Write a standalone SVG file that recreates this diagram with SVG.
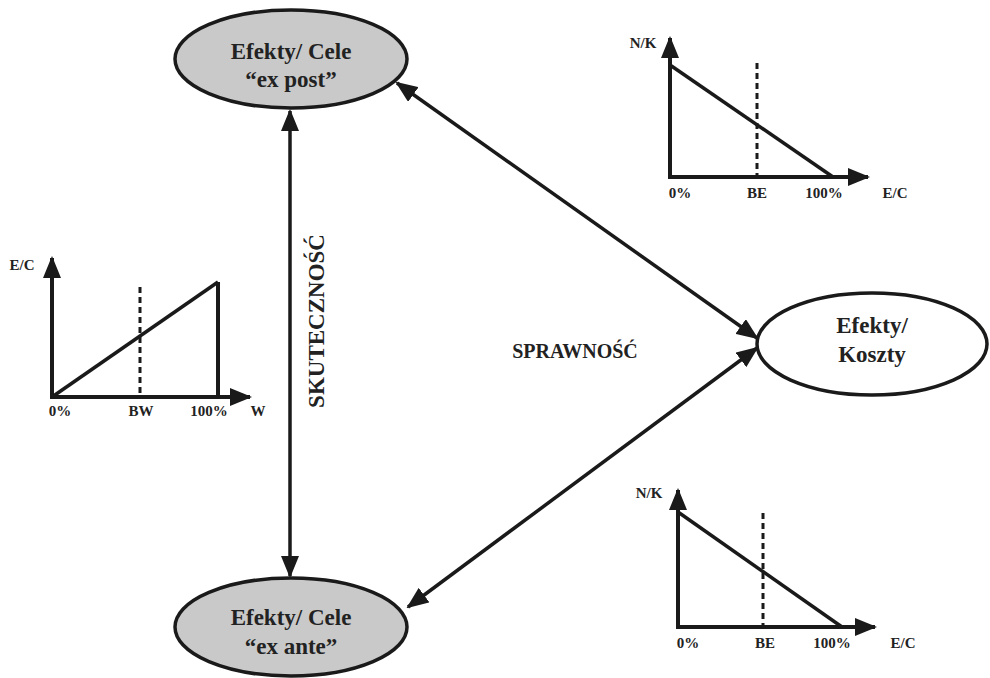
<svg xmlns="http://www.w3.org/2000/svg" width="990" height="678" viewBox="0 0 990 678">
<defs>
<marker id="ah" viewBox="0 0 22 18" markerUnits="userSpaceOnUse" markerWidth="22" markerHeight="18" refX="20" refY="9" orient="auto-start-reverse"><path d="M0,0 L22,9 L0,18 z" fill="#1a1a1a"/></marker>
<marker id="ax" viewBox="0 0 22 18" markerUnits="userSpaceOnUse" markerWidth="22" markerHeight="18" refX="20" refY="9" orient="auto"><path d="M0,0 L22,9 L0,18 z" fill="#1a1a1a"/></marker>
</defs>
<style>
.node{stroke:#1a1a1a;stroke-width:3.5}
.grey{fill:#c9c9c9}
.white{fill:#fff}
.nt{font-family:"Liberation Serif","Times New Roman",serif;font-weight:bold;font-size:23px;fill:#222;text-anchor:middle}
.lab{font-family:"Liberation Serif","Times New Roman",serif;font-weight:bold;font-size:20px;fill:#222;text-anchor:middle}
.ct{font-family:"Liberation Serif","Times New Roman",serif;font-weight:bold;font-size:15px;fill:#222;text-anchor:middle}
.conn{stroke:#1a1a1a;stroke-width:3.5;fill:none}
.axis{stroke:#1a1a1a;stroke-width:4;fill:none}
.curve{stroke:#1a1a1a;stroke-width:3.5;fill:none}
.dash{stroke:#1a1a1a;stroke-width:3;fill:none;stroke-dasharray:6 4}
</style>
<rect width="990" height="678" fill="#fff"/>
<g id="connectors">
<line class="conn" x1="290" y1="111" x2="290" y2="576" marker-start="url(#ah)" marker-end="url(#ah)"/>
<line class="conn" x1="397" y1="83" x2="757" y2="338" marker-start="url(#ah)" marker-end="url(#ah)"/>
<line class="conn" x1="408" y1="607" x2="757" y2="348" marker-start="url(#ah)" marker-end="url(#ah)"/>
</g>
<g id="node-ex-post">
<ellipse class="node grey" cx="291" cy="59" rx="116" ry="49"/>
<text class="nt" x="291" y="59">Efekty/ Cele</text>
<text class="nt" x="291" y="87">“ex post”</text>
</g>
<g id="node-ex-ante">
<ellipse class="node grey" cx="291" cy="627" rx="116" ry="49"/>
<text class="nt" x="291" y="625">Efekty/ Cele</text>
<text class="nt" x="291" y="654">“ex ante”</text>
</g>
<g id="node-koszty">
<ellipse class="node white" cx="872" cy="344" rx="115" ry="51"/>
<text class="nt" x="872" y="333">Efekty/</text>
<text class="nt" x="872" y="362">Koszty</text>
</g>
<g id="label-skutecznosc">
<text class="lab" transform="translate(324,321) rotate(-90)" x="0" y="0" style="font-size:23px">SKUTECZNOŚĆ</text>
</g>
<g id="label-sprawnosc">
<text class="lab" x="575" y="358">SPRAWNOŚĆ</text>
</g>
<g id="chart-top-right">
<line class="axis" x1="670" y1="177" x2="670" y2="38" marker-end="url(#ax)"/>
<line class="axis" x1="668" y1="177" x2="868" y2="177" marker-end="url(#ax)"/>
<line class="curve" x1="670" y1="65" x2="833" y2="177"/>
<line class="dash" x1="757" y1="63" x2="757" y2="177"/>
<text class="ct" x="643" y="48">N/K</text>
<text class="ct" x="680" y="198">0%</text>
<text class="ct" x="757" y="198">BE</text>
<text class="ct" x="824" y="198">100%</text>
<text class="ct" x="895" y="198">E/C</text>
</g>
<g id="chart-bottom-right">
<line class="axis" x1="678" y1="627" x2="678" y2="490" marker-end="url(#ax)"/>
<line class="axis" x1="676" y1="627" x2="875" y2="627" marker-end="url(#ax)"/>
<line class="curve" x1="678" y1="512" x2="842" y2="627"/>
<line class="dash" x1="763" y1="513" x2="763" y2="627"/>
<text class="ct" x="649" y="498">N/K</text>
<text class="ct" x="688" y="648">0%</text>
<text class="ct" x="765" y="648">BE</text>
<text class="ct" x="832" y="648">100%</text>
<text class="ct" x="903" y="648">E/C</text>
</g>
<g id="chart-left">
<line class="axis" x1="52" y1="397" x2="52" y2="258" marker-end="url(#ax)"/>
<line class="axis" x1="50" y1="397" x2="250" y2="397" marker-end="url(#ax)"/>
<line class="curve" x1="52" y1="397" x2="218" y2="282"/>
<line class="axis" x1="218" y1="282" x2="218" y2="397"/>
<line class="dash" x1="140" y1="287" x2="140" y2="397"/>
<text class="ct" x="22" y="270">E/C</text>
<text class="ct" x="60" y="416">0%</text>
<text class="ct" x="141" y="416">BW</text>
<text class="ct" x="209" y="416">100%</text>
<text class="ct" x="258" y="416">W</text>
</g>
</svg>
